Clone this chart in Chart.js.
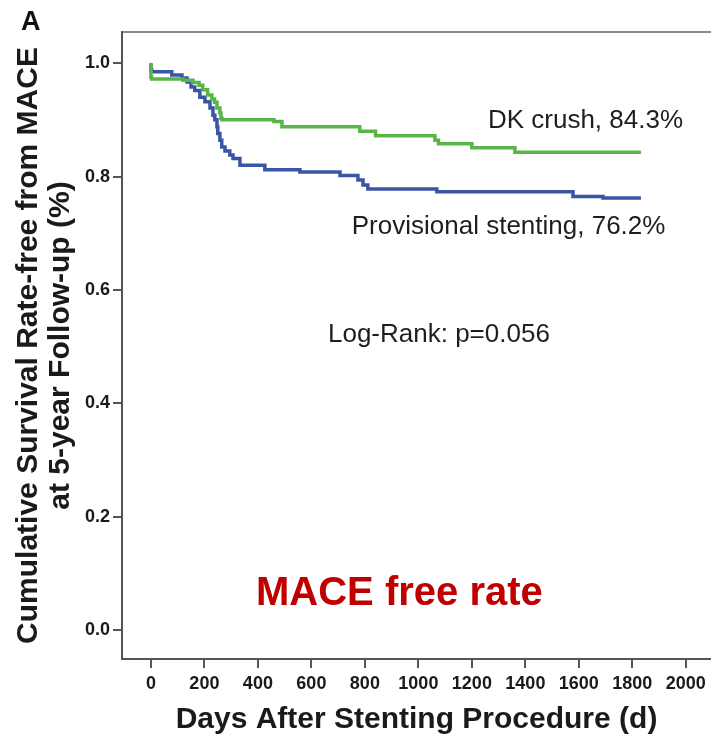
<!DOCTYPE html>
<html>
<head>
<meta charset="utf-8">
<script src="https://cdn.jsdelivr.net/npm/chart.js@4/dist/chart.umd.min.js"></script>
<style>
  html, body { margin: 0; padding: 0; background: #fff; }
  #wrap { width: 711px; height: 738px; }
</style>
</head>
<body>
<div id="wrap"><canvas id="km" width="711" height="738"></canvas></div>
<script>
// Kaplan-Meier estimates: follow-up day of each step and survival after it
const dkDays = [0, 3, 120, 157, 180, 194, 212, 228, 238, 247, 258, 262, 266, 460, 490, 781, 840, 1062, 1075, 1200, 1361, 1574, 1832];
const dkSurvival = [1.0, 0.975, 0.972, 0.970, 0.966, 0.961, 0.953, 0.944, 0.937, 0.931, 0.921, 0.912, 0.903, 0.900, 0.897, 0.888, 0.880, 0.872, 0.864, 0.858, 0.851, 0.843, 0.843];

const psDays = [0, 3, 78, 116, 135, 150, 164, 183, 202, 221, 232, 239, 247, 250, 258, 265, 277, 295, 307, 333, 426, 557, 707, 774, 793, 811, 1069, 1578, 1690, 1712, 1832];
const psSurvival = [1.0, 0.988, 0.985, 0.979, 0.974, 0.967, 0.958, 0.952, 0.940, 0.932, 0.921, 0.908, 0.900, 0.888, 0.876, 0.864, 0.852, 0.845, 0.838, 0.832, 0.820, 0.812, 0.808, 0.802, 0.794, 0.785, 0.778, 0.773, 0.765, 0.762, 0.762];

const seriesNames = ['DK crush', 'Provisional stenting'];
const finalRates = ['84.3%', '76.2%'];

const xTickValues = [0, 200, 400, 600, 800, 1000, 1200, 1400, 1600, 1800, 2000];
const yTickValues = [0.0, 0.2, 0.4, 0.6, 0.8, 1.0];

const xTitle = 'Days After Stenting Procedure (d)';
const yTitle = ['Cumulative Survival Rate-free from MACE', 'at 5-year Follow-up (%)'];
const logRankText = 'Log-Rank: p=0.056';
const panelText = 'MACE free rate';
const panelLetter = 'A';

const toPoints = (days, vals) => days.map((d, i) => ({ x: d, y: vals[i] }));

// Text placed inside the plot, anchored in data units
const notes = [
  { text: seriesNames[0] + ', ' + finalRates[0], x: 1260, y: 0.898, font: '26px "Liberation Sans", Arial, sans-serif', color: '#1e1e1e' },
  { text: seriesNames[1] + ', ' + finalRates[1], x: 751, y: 0.711, font: '26px "Liberation Sans", Arial, sans-serif', color: '#1e1e1e' },
  { text: logRankText, x: 662, y: 0.520, font: '26px "Liberation Sans", Arial, sans-serif', color: '#1e1e1e' },
  { text: panelText, x: 393, y: 0.063, font: 'bold 40px "Liberation Sans", Arial, sans-serif', color: '#c00000' }
];

const notesPlugin = {
  id: 'notes',
  afterDatasetsDraw(chart) {
    const { ctx, scales } = chart;
    ctx.save();
    ctx.textAlign = 'left';
    ctx.textBaseline = 'middle';
    notes.forEach(n => {
      ctx.font = n.font;
      ctx.fillStyle = n.color;
      ctx.fillText(n.text, scales.x.getPixelForValue(n.x), scales.y.getPixelForValue(n.y));
    });
    ctx.font = 'bold 27px "Liberation Sans", Arial, sans-serif';
    ctx.fillStyle = '#111';
    ctx.fillText(panelLetter, 21, 23);
    ctx.restore();
  }
};

const tickFont = { family: '"Liberation Sans Narrow", "Arial Narrow", sans-serif', size: 18, weight: 'bold' };
const titleFont = { family: '"Liberation Sans", Arial, sans-serif', size: 30, weight: 'bold', lineHeight: 1.07 };

new Chart(document.getElementById('km'), {
  type: 'line',
  data: {
    datasets: [
      {
        label: seriesNames[0],
        data: toPoints(dkDays, dkSurvival),
        borderColor: '#58b646',
        borderWidth: 3.5,
        stepped: 'after',
        pointRadius: 0,
        fill: false
      },
      {
        label: seriesNames[1],
        data: toPoints(psDays, psSurvival),
        borderColor: '#3a55a5',
        borderWidth: 3.5,
        stepped: 'after',
        pointRadius: 0,
        fill: false
      }
    ]
  },
  options: {
    responsive: false,
    animation: false,
    layout: { padding: { left: 0, right: 0, top: 32, bottom: 2 } },
    plugins: { legend: { display: false }, tooltip: { enabled: false } },
    scales: {
      x: {
        type: 'linear',
        position: 'bottom',
        min: -108,
        max: 2094,
        afterBuildTicks(s) { s.ticks = xTickValues.map(v => ({ value: v })); },
        afterFit(s) { s.height = 77; s.paddingLeft = 0; s.paddingRight = 0; },
        ticks: { color: '#1a1a1a', font: tickFont, padding: 5, maxRotation: 0, autoSkip: false, callback: v => String(v) },
        grid: { display: true, drawOnChartArea: false, drawTicks: true, tickLength: 9, color: '#555', lineWidth: 2 },
        border: { display: true, color: '#555', width: 2 },
        title: { display: true, text: xTitle, color: '#1a1a1a', font: titleFont, padding: { top: 0, bottom: 0 } }
      },
      xTop: {
        type: 'linear',
        position: 'top',
        min: -108,
        max: 2094,
        afterFit(s) { s.height = 0; s.paddingLeft = 0; s.paddingRight = 0; },
        ticks: { display: false },
        grid: { display: false, drawTicks: false },
        border: { display: true, color: '#888', width: 2 }
      },
      y: {
        type: 'linear',
        position: 'left',
        min: -0.051,
        max: 1.055,
        afterBuildTicks(s) { s.ticks = yTickValues.map(v => ({ value: v })); },
        afterFit(s) { s.width = 122; s.paddingTop = 0; s.paddingBottom = 0; },
        ticks: { color: '#1a1a1a', font: tickFont, padding: 3, autoSkip: false, callback: v => Number(v).toFixed(1) },
        grid: { display: true, drawOnChartArea: false, drawTicks: true, tickLength: 9, color: '#555', lineWidth: 2 },
        border: { display: true, color: '#555', width: 2 },
        title: { display: true, text: yTitle, color: '#1a1a1a', font: titleFont, padding: { top: 13, bottom: 0 } }
      }
    }
  },
  plugins: [notesPlugin]
});
</script>
</body>
</html>
